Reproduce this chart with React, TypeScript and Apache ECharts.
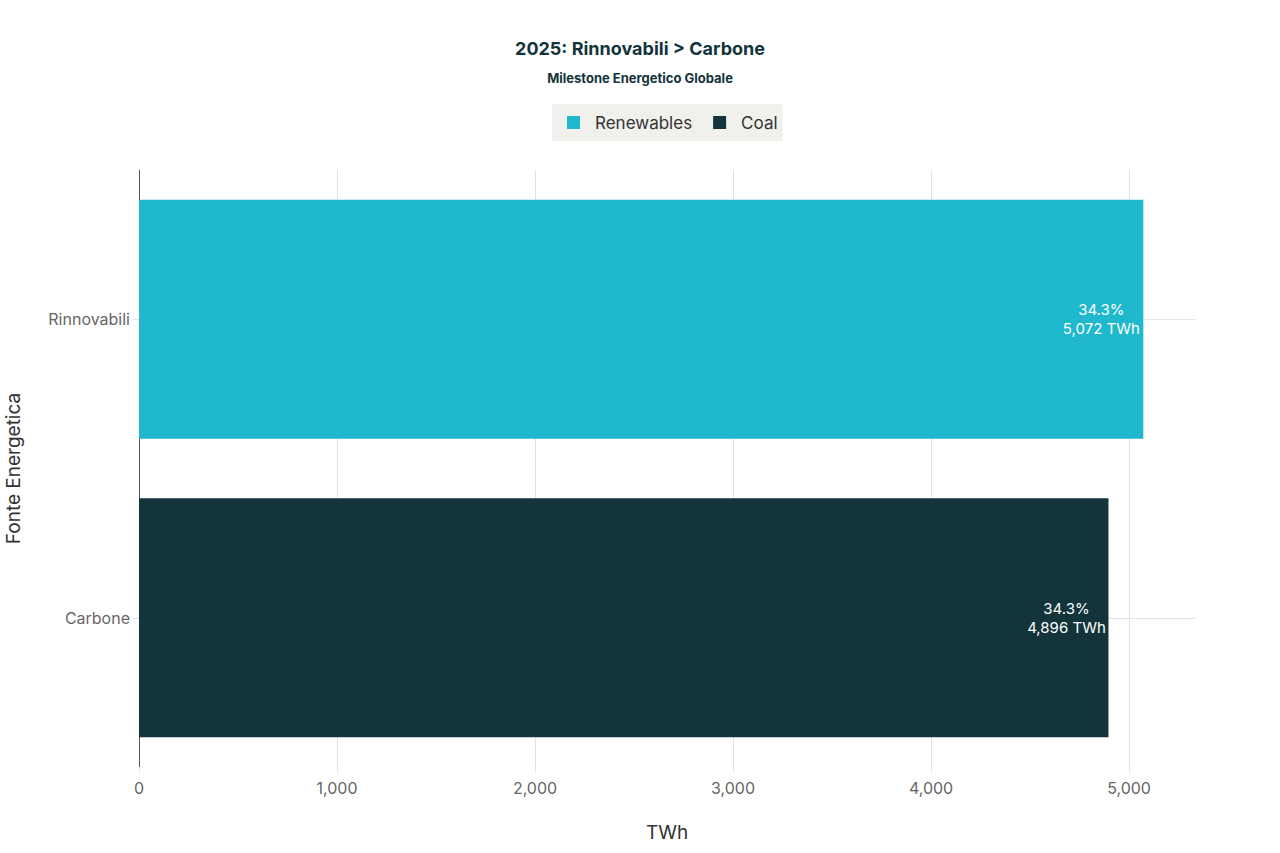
import { useEffect, useRef } from "react";
import * as echarts from "echarts";

const categories = ["Carbone", "Rinnovabili"];
const seriesNames = ["Renewables", "Coal"];
const renewablesValues = [null, 5072];
const coalValues = [4896, null];
const shareLabels = ["34.3%", "34.3%"];
const xTicks = [0, 1000, 2000, 3000, 4000, 5000];

const TEAL = "#1fb8cd";
const DARK = "#13343b";
const GRID = "#e3e3e3";
const FONT = "Inter, 'Noto Sans', sans-serif";

export default function App() {
  const chartRef = useRef<HTMLDivElement>(null);

  useEffect(() => {
    if (!chartRef.current) return;
    const chart = echarts.init(chartRef.current, undefined, { renderer: "svg" });

    const label = (idx: number) => ({
      show: true,
      position: "insideRight",
      distance: 4,
      color: "#ffffff",
      fontSize: 15,
      lineHeight: 19,
      fontFamily: FONT,
      align: "center",
      offset: [-38, 0],
      formatter: (p: any) =>
        `${shareLabels[idx]}\n${Number(p.value).toLocaleString("en-US")} TWh`,
    });

    chart.setOption({
      animation: false,
      textStyle: { fontFamily: FONT },
      title: {
        text: "2025: Rinnovabili > Carbone",
        subtext: "Milestone Energetico Globale",
        left: "center",
        top: 34,
        itemGap: 14,
        textStyle: { fontSize: 18, fontWeight: "bold", color: DARK, fontFamily: FONT },
        subtextStyle: { fontSize: 13, fontWeight: "bold", color: DARK, fontFamily: FONT },
      },
      legend: {
        data: seriesNames,
        top: 104,
        left: 552,
        backgroundColor: "#f0f0ec",
        padding: [10, 5, 10, 15],
        itemWidth: 13,
        itemHeight: 13,
        itemGap: 21,
        icon: "rect",
        textStyle: { fontSize: 17, color: "#333", fontFamily: FONT, padding: [0, 0, 0, 10] },
      },
      grid: {
        left: 139,
        right: 85,
        top: 170,
        bottom: 86,
        containLabel: false,
        outerBoundsMode: "none",
      },
      xAxis: {
        type: "value",
        min: xTicks[0],
        max: 5333,
        interval: 1000,
        name: "TWh",
        nameLocation: "middle",
        nameGap: 56,
        nameTextStyle: { fontSize: 19, color: "#333", fontFamily: FONT },
        axisLine: { show: false },
        axisTick: { show: true, length: 6, lineStyle: { color: GRID } },
        axisLabel: {
          fontSize: 16,
          color: "#666",
          margin: 13,
          showMaxLabel: false,
          formatter: (v: number) => (xTicks.includes(v) ? v.toLocaleString("en-US") : ""),
        },
        splitLine: {
          show: true,
          lineStyle: {
            color: [GRID, GRID, GRID, GRID, GRID, GRID, "rgba(0,0,0,0)"],
            width: 1,
          },
        },
      },
      yAxis: {
        type: "category",
        data: categories,
        name: "Fonte Energetica",
        nameLocation: "middle",
        nameGap: 116,
        nameTextStyle: { fontSize: 19, color: "#333", fontFamily: FONT },
        axisLine: { show: true, lineStyle: { color: "#555", width: 1 } },
        axisTick: { show: true, alignWithLabel: true, length: 6, lineStyle: { color: GRID } },
        axisLabel: { fontSize: 16, color: "#666", margin: 9 },
        splitLine: { show: false },
      },
      series: [
        {
          name: "gridlines",
          type: "line",
          data: [],
          z: 0,
          silent: true,
          markLine: {
            z: 0,
            silent: true,
            symbol: "none",
            label: { show: false },
            lineStyle: { color: GRID, type: "solid", width: 1 },
            data: categories.map((c) => ({ yAxis: c })),
          },
        },
        {
          name: seriesNames[0],
          type: "bar",
          stack: "total",
          z: 2,
          barCategoryGap: "20%",
          itemStyle: { color: TEAL },
          label: label(1),
          data: renewablesValues,
        },
        {
          name: seriesNames[1],
          type: "bar",
          stack: "total",
          z: 2,
          barCategoryGap: "20%",
          itemStyle: { color: DARK },
          label: label(0),
          data: coalValues,
        },
      ],
    });

    return () => chart.dispose();
  }, []);

  return (
    <div
      ref={chartRef}
      style={{ position: "absolute", left: 0, top: 0, width: 1280, height: 853 }}
    />
  );
}
